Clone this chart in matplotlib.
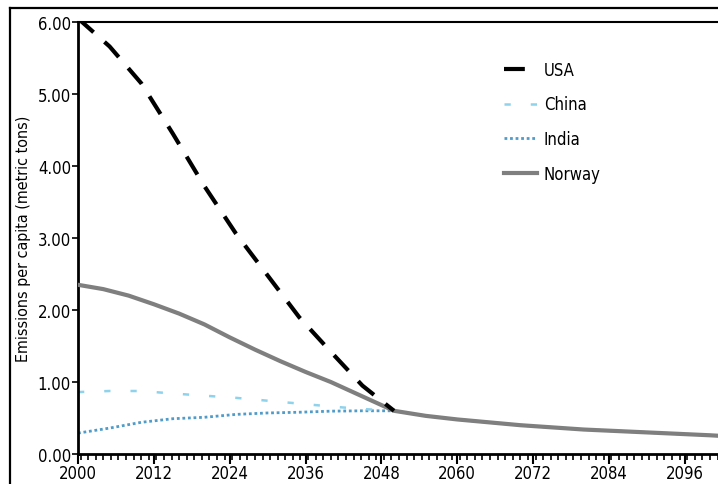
import matplotlib
matplotlib.use("Agg")
import matplotlib.pyplot as plt
from matplotlib.lines import Line2D
from matplotlib.ticker import FixedLocator, MultipleLocator

plt.rcParams['font.family'] = ['DejaVu Sans']
plt.rcParams['font.stretch'] = 'condensed'

# ---- data ----
usa_years = [2000, 2005, 2010, 2015, 2020, 2025, 2030, 2035, 2040, 2045, 2050]
usa_vals = [6.05, 5.66, 5.15, 4.45, 3.72, 3.06, 2.48, 1.90, 1.42, 0.95, 0.60]

china_years = [2000, 2005, 2010, 2015, 2020, 2025, 2030, 2035, 2040, 2045, 2050]
china_vals = [0.86, 0.875, 0.875, 0.84, 0.81, 0.78, 0.74, 0.70, 0.66, 0.625, 0.60]

tail_years = [2055, 2060, 2065, 2070, 2075, 2080, 2085, 2090, 2095, 2100, 2102]
tail_vals = [0.53, 0.48, 0.44, 0.40, 0.37, 0.34, 0.32, 0.30, 0.28, 0.26, 0.25]

india_years = [2000, 2005, 2010, 2015, 2020, 2025, 2030, 2035, 2040, 2045, 2050] + tail_years
india_vals = [0.29, 0.36, 0.44, 0.49, 0.51, 0.55, 0.57, 0.58, 0.595, 0.60, 0.60] + tail_vals

norway_years = [2000, 2004, 2008, 2012, 2016, 2020, 2024, 2028, 2032, 2036, 2040, 2044, 2048, 2050] + tail_years
norway_vals = [2.35, 2.29, 2.20, 2.08, 1.95, 1.80, 1.62, 1.45, 1.29, 1.14, 1.00, 0.84, 0.68, 0.60] + tail_vals

xtick_labels = ['2000', '2012', '2024', '2036', '2048', '2060', '2072', '2084', '2096']
ytick_vals = [0, 1, 2, 3, 4, 5, 6]
ylabel = 'Emissions per capita (metric tons)'

# ---- figure ----
W, H = 718, 485
fig = plt.figure(figsize=(W / 100, H / 100), dpi=100)
ax = fig.add_axes([78 / W, 1 - 455 / H, 1 - 78 / W, (455 - 23) / H])

fig.add_artist(Line2D([10 / W, 1], [1 - 9 / H, 1 - 9 / H], color='black', lw=1.6, transform=fig.transFigure))
fig.add_artist(Line2D([10 / W, 10 / W], [0, 1 - 9 / H], color='black', lw=1.6, transform=fig.transFigure))

ax.plot(norway_years, norway_vals, color='#7f7f7f', lw=3.0, label='Norway', zorder=3)
ax.plot(india_years, india_vals, color='#4f9bc9', lw=2.0, linestyle=(0, (1, 1)), label='India', zorder=2)
ax.plot(china_years, china_vals, color='#8fd2ec', lw=1.8, linestyle=(0, (2.5, 8)), label='China', zorder=2)
ax.plot(usa_years, usa_vals, color='black', lw=3.0, linestyle=(0, (5, 3.5)), label='USA', zorder=4)

ax.set_xlim(2000, 2000 + 640 / 6.32)
ax.set_ylim(0, 6)

ax.xaxis.set_major_locator(FixedLocator([int(t) for t in xtick_labels]))
ax.set_xticklabels(xtick_labels)
ax.xaxis.set_minor_locator(MultipleLocator(1.2))
ax.set_yticks(ytick_vals)
ax.set_yticklabels(['%.2f' % v for v in ytick_vals])

ax.tick_params(axis='x', which='major', length=7, width=1.5, labelsize=12, pad=0, direction='out')
ax.tick_params(axis='x', which='minor', length=4, width=1.2, direction='out')
ax.tick_params(axis='y', which='major', length=4, width=1.2, labelsize=12, pad=1, direction='out')

ax.spines['right'].set_visible(False)
for s in ['left', 'bottom']:
    ax.spines[s].set_linewidth(2)
ax.spines['top'].set_linewidth(1.5)
ax.spines['top'].set_linestyle((0, (2, 1)))

ax.set_ylabel(ylabel, fontsize=11.5, labelpad=5)

handles, labels = ax.get_legend_handles_labels()
order = [labels.index(n) for n in ['USA', 'China', 'India', 'Norway']]
leg = ax.legend([handles[i] for i in order], [labels[i] for i in order],
                loc='upper left', bbox_to_anchor=((497 - 78) / 640, (455 - 55) / 432),
                frameon=False, fontsize=12, handlelength=2.0, handletextpad=0.4,
                labelspacing=1.0, borderaxespad=0)

fig.savefig('out.png', dpi=100)
